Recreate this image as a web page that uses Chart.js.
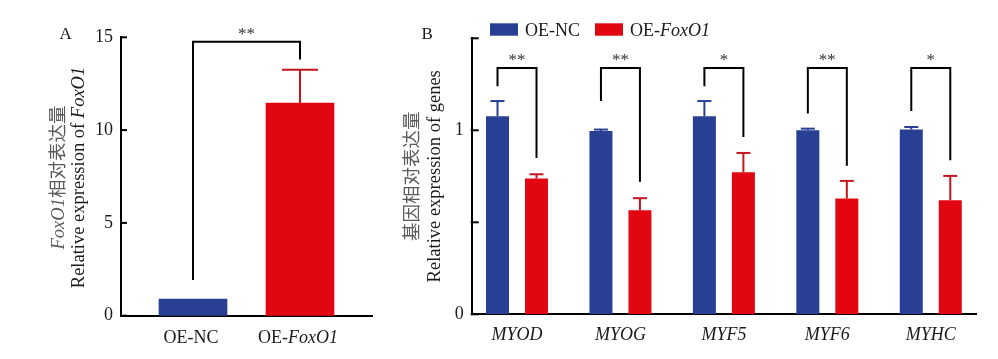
<!DOCTYPE html>
<html>
<head>
<meta charset="utf-8">
<script src="https://cdn.jsdelivr.net/npm/chart.js@4.4.1/dist/chart.umd.min.js"></script>
<style>
  html, body { margin: 0; padding: 0; background: #ffffff; }
  #wrap { position: relative; width: 998px; height: 359px; overflow: hidden; background: #fff; }
  #cA { position: absolute; left: 0; top: 0; }
  #cB { position: absolute; left: 390px; top: 0; }
</style>
</head>
<body>
<div id="wrap">
  <canvas id="cA" width="390" height="359"></canvas>
  <canvas id="cB" width="608" height="359"></canvas>
</div>
<script>
// ---------------- Panel A data ----------------
const catsA = ['OE-NC', 'OE-FoxO1'];
const valsA = [0.90, 11.46];
const errsA = [0.0, 1.79];
const yTicksA = [0, 5, 10, 15];
const sigA = '**';
const bracketA = [1.92, 14.76, 13.81]; // left foot, top, right foot (data units)

// ---------------- Panel B data ----------------
const genes = ['MYOD', 'MYOG', 'MYF5', 'MYF6', 'MYHC'];
const seriesNames = ['OE-NC', 'OE-FoxO1'];
const ncVals = [1.076, 0.996, 1.076, 1.000, 1.005];
const ncErrs = [0.083, 0.008, 0.083, 0.009, 0.013];
const foxVals = [0.738, 0.566, 0.772, 0.629, 0.620];
const foxErrs = [0.023, 0.065, 0.105, 0.096, 0.132];
const sigB = ['**', '**', '*', '**', '*'];
const brLeftB = [1.239, 1.159, 1.239, 1.091, 1.105];
const brTopB = [1.338, 1.338, 1.338, 1.338, 1.338];
const brRightB = [0.850, 0.720, 0.964, 0.808, 0.837];
const yTicksB = [0, 0.5, 1, 1.5];
const yLabelsB = ['0', '', '1', ''];

const italicWords = ['FoxO1'];

// ---------------- styling ----------------
const FONT = "'Liberation Serif', 'Times New Roman', 'Noto Sans CJK SC', serif";
const BLUE = '#283f93';
const RED = '#e20613';
const RED_ERR = '#c4161c';
const TXT = '#1a1a1a';
const CJK_TXT = '#5a5a5a';

function toRuns(text, color) {
  const runs = [];
  let rest = text;
  while (rest.length) {
    let idx = -1, word = null;
    for (const w of italicWords) {
      const k = rest.indexOf(w);
      if (k >= 0 && (idx < 0 || k < idx)) { idx = k; word = w; }
    }
    if (idx < 0) { runs.push({ t: rest, i: false, c: color }); break; }
    if (idx > 0) runs.push({ t: rest.slice(0, idx), i: false, c: color });
    runs.push({ t: word, i: true, c: color });
    rest = rest.slice(idx + word.length);
  }
  return runs;
}
function fontOf(r, size) { return (r.i ? 'italic ' : '') + size + 'px ' + FONT; }
function runsWidth(ctx, runs, size) {
  let w = 0;
  for (const r of runs) { ctx.font = fontOf(r, size); w += ctx.measureText(r.t).width; }
  return w;
}
function drawRuns(ctx, runs, x, y, size, align) {
  const w = runsWidth(ctx, runs, size);
  let cx = align === 'center' ? x - w / 2 : (align === 'right' ? x - w : x);
  ctx.textAlign = 'left';
  ctx.textBaseline = 'alphabetic';
  for (const r of runs) {
    ctx.font = fontOf(r, size);
    ctx.fillStyle = r.c;
    ctx.fillText(r.t, cx, y);
    cx += ctx.measureText(r.t).width;
  }
}
function drawVertical(ctx, runs, bx, cy, size) {
  ctx.save();
  ctx.translate(bx, cy);
  ctx.rotate(-Math.PI / 2);
  drawRuns(ctx, runs, 0, 0, size, 'center');
  ctx.restore();
}
function line(ctx, pts, color, w) {
  ctx.beginPath();
  ctx.moveTo(pts[0][0], pts[0][1]);
  for (let k = 1; k < pts.length; k++) ctx.lineTo(pts[k][0], pts[k][1]);
  ctx.strokeStyle = color; ctx.lineWidth = w; ctx.lineCap = 'butt'; ctx.lineJoin = 'miter';
  ctx.stroke();
}
function drawErrors(chart, dsIndex, errs, color, capW) {
  const ctx = chart.ctx;
  const y = chart.scales.y;
  const meta = chart.getDatasetMeta(dsIndex);
  const ds = chart.data.datasets[dsIndex];
  meta.data.forEach((el, j) => {
    const e = errs[j];
    if (!e) return;
    const v = ds.data[j].y;
    const top = y.getPixelForValue(v + e);
    const c = Array.isArray(color) ? color[j] : color;
    line(ctx, [[el.x, el.y], [el.x, top]], c, 2);
    line(ctx, [[el.x - capW / 2, top], [el.x + capW / 2, top]], c, 2);
  });
}
function drawInwardTicks(chart, len) {
  const ctx = chart.ctx;
  const y = chart.scales.y;
  const left = chart.chartArea.left;
  y.ticks.forEach(t => {
    const py = y.getPixelForValue(t.value);
    line(ctx, [[left - 1, py], [left + len, py]], '#000', 2);
  });
}
function drawBracket(ctx, y, xl, xr, yl, yt, yr, label, size) {
  const pl = y.getPixelForValue(yl), pt = y.getPixelForValue(yt), pr = y.getPixelForValue(yr);
  line(ctx, [[xl, pl], [xl, pt], [xr, pt], [xr, pr]], '#000', 2);
  ctx.font = size + 'px ' + FONT;
  ctx.fillStyle = '#333';
  ctx.textAlign = 'center';
  ctx.textBaseline = 'alphabetic';
  ctx.fillText(label, (xl + xr) / 2, pt - 3);
}

// ---------------- Panel A ----------------
const pluginA = {
  id: 'panelA',
  afterDatasetsDraw(chart) {
    const ctx = chart.ctx;
    const y = chart.scales.y, x = chart.scales.x;
    drawErrors(chart, 0, errsA, [BLUE, RED_ERR], 36);
    drawInwardTicks(chart, 6);
    const meta = chart.getDatasetMeta(0);
    drawBracket(ctx, y, meta.data[0].x, meta.data[1].x, bracketA[0], bracketA[1], bracketA[2], sigA, 17);
    // category labels
    catsA.forEach((c, i) => {
      drawRuns(ctx, toRuns(c, TXT), x.getPixelForValue(i) - 2, 343, 18, 'center');
    });
    // axis titles
    const cy = (chart.chartArea.top + chart.chartArea.bottom) / 2 + 1;
    drawVertical(ctx, toRuns('FoxO1相对表达量', CJK_TXT), 63.5, cy, 18.5);
    drawVertical(ctx, toRuns('Relative expression of FoxO1', TXT), 84, cy, 18.5);
    // panel letter
    ctx.font = '17px ' + FONT; ctx.fillStyle = TXT; ctx.textAlign = 'left'; ctx.textBaseline = 'alphabetic';
    ctx.fillText('A', 59.5, 38.5);
  }
};

new Chart(document.getElementById('cA'), {
  type: 'bar',
  data: {
    datasets: [{
      label: 'A',
      data: valsA.map((v, i) => ({ x: i, y: v })),
      backgroundColor: [BLUE, RED],
      borderWidth: 0,
      barThickness: 68
    }]
  },
  options: {
    responsive: false,
    devicePixelRatio: 1,
    animation: false,
    layout: { padding: { left: 71, right: 18, top: 37.3, bottom: 33.3 } },
    plugins: { legend: { display: false }, tooltip: { enabled: false } },
    scales: {
      x: {
        type: 'linear', offset: false,
        min: -0.673, max: 1.673,
        grid: { display: false, drawTicks: false },
        border: { display: true, color: '#000', width: 2 },
        ticks: { display: false },
        afterBuildTicks: s => { s.ticks = catsA.map((c, i) => ({ value: i })); },
        afterFit: s => { s.height = 10; }
      },
      y: {
        min: 0, max: 15,
        grid: { display: false, drawTicks: false },
        border: { display: true, color: '#000', width: 2 },
        afterBuildTicks: s => { s.ticks = yTicksA.map(v => ({ value: v })); },
        ticks: { padding: 8, color: TXT, font: { family: FONT, size: 18 }, callback: v => String(v) },
        afterFit: s => { s.width = 50; }
      }
    }
  },
  plugins: [pluginA]
});

// ---------------- Panel B ----------------
const pluginB = {
  id: 'panelB',
  afterDatasetsDraw(chart) {
    const ctx = chart.ctx;
    const y = chart.scales.y;
    drawErrors(chart, 0, ncErrs, BLUE, 14);
    drawErrors(chart, 1, foxErrs, RED_ERR, 14);
    drawInwardTicks(chart, 7);
    const m0 = chart.getDatasetMeta(0), m1 = chart.getDatasetMeta(1);
    genes.forEach((g, j) => {
      drawBracket(ctx, y, m0.data[j].x, m1.data[j].x, brLeftB[j], brTopB[j], brRightB[j], sigB[j], 17);
    });
    // axis titles
    const cy = (chart.chartArea.top + chart.chartArea.bottom) / 2;
    drawVertical(ctx, toRuns('基因相对表达量', CJK_TXT), 28, cy, 18.5);
    drawVertical(ctx, toRuns('Relative expression of genes', TXT), 50, cy, 18.5);
    // panel letter
    ctx.font = '17px ' + FONT; ctx.fillStyle = TXT; ctx.textAlign = 'left'; ctx.textBaseline = 'alphabetic';
    ctx.fillText('B', 31.5, 38.5);
    // legend
    const lx = [100, 205];
    chart.data.datasets.forEach((ds, i) => {
      ctx.fillStyle = ds.backgroundColor;
      ctx.fillRect(lx[i], 23.3, 28, 12.4);
      drawRuns(ctx, toRuns(ds.label, TXT), lx[i] + 35, 35.7, 18, 'left');
    });
  }
};

new Chart(document.getElementById('cB'), {
  type: 'bar',
  data: {
    datasets: [
      { label: seriesNames[0], data: ncVals.map((v, i) => ({ x: i, y: v })), backgroundColor: BLUE, borderWidth: 0 },
      { label: seriesNames[1], data: foxVals.map((v, i) => ({ x: i, y: v })), backgroundColor: RED, borderWidth: 0 }
    ]
  },
  options: {
    responsive: false,
    devicePixelRatio: 1,
    animation: false,
    datasets: { bar: { categoryPercentage: 0.754, barPercentage: 0.59 } },
    layout: { padding: { left: 21.7, right: 21.3, top: 38.3, bottom: 0 } },
    plugins: { legend: { display: false }, tooltip: { enabled: false } },
    scales: {
      x: {
        type: 'linear', offset: false,
        min: -0.438, max: 4.444,
        grid: { display: false, drawTicks: false },
        border: { display: true, color: '#000', width: 2 },
        afterBuildTicks: s => { s.ticks = genes.map((g, i) => ({ value: i })); },
        ticks: {
          padding: 10, color: TXT, maxRotation: 0, autoSkip: false,
          font: { family: FONT, size: 18, style: 'italic' },
          callback: v => genes[Math.round(v)]
        },
        afterFit: s => { s.height = 44.7; }
      },
      y: {
        min: 0, max: 1.5,
        grid: { display: false, drawTicks: false },
        border: { display: true, color: '#000', width: 2 },
        afterBuildTicks: s => { s.ticks = yTicksB.map(v => ({ value: v })); },
        ticks: {
          padding: 8, color: TXT, font: { family: FONT, size: 18 },
          callback: (v, i) => yLabelsB[i]
        },
        afterFit: s => { s.width = 60; }
      }
    }
  },
  plugins: [pluginB]
});
</script>
</body>
</html>
